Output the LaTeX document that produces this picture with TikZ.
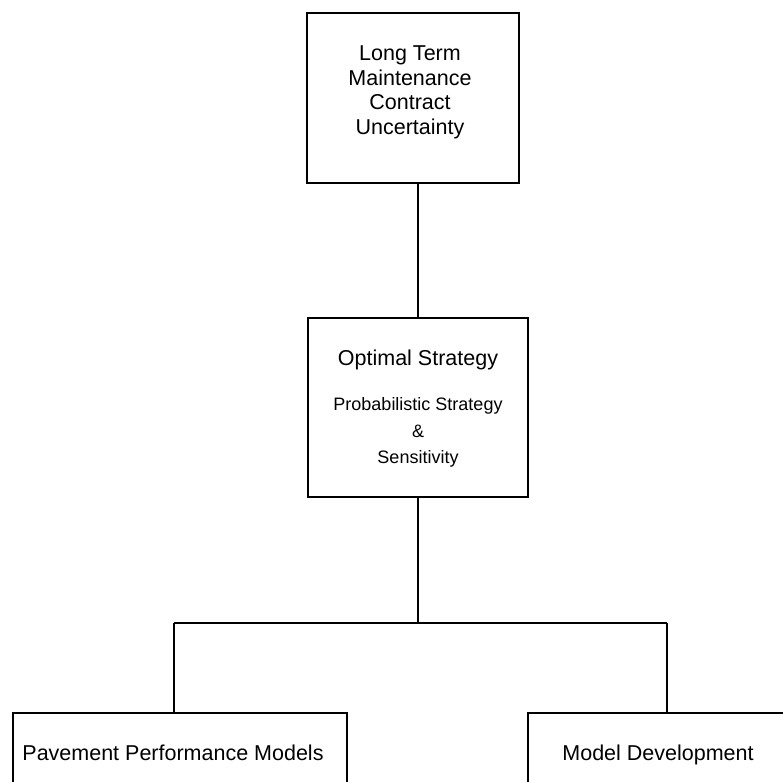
\documentclass[tikz,border=0pt]{standalone}
\usepackage{fontspec}
\setmainfont{Liberation Sans}
\begin{document}
\begin{tikzpicture}[x=1pt,y=-1pt,line width=1.8pt]
\tikzstyle{block}=[draw,rectangle,inner sep=0pt]
\tikzstyle{big}=[font=\fontsize{21.5}{24.5}\selectfont,align=center,inner sep=0pt]
\tikzstyle{small}=[font=\fontsize{18}{26.5}\selectfont,align=center,inner sep=0pt]

\useasboundingbox (0,0) rectangle (783,781);
\clip (0,0) rectangle (783,781);

% boxes
\node[block,minimum width=212pt,minimum height=170pt] (contract) at (413,98) {};
\node[block,minimum width=220pt,minimum height=179pt] (strategy) at (418,407.5) {};
\node[block,minimum width=334pt,minimum height=140pt] (pavement) at (180,783) {};
\node[block,minimum width=300pt,minimum height=140pt] (development) at (678,783) {};

% texts
\node[big,anchor=north] (contracttxt) at (410,45) {Long Term\\Maintenance\\Contract\\Uncertainty};
\node[big,anchor=north] (optimal) at (418,349) {Optimal Strategy};
\node[small,anchor=north] (prob) at (418,397) {Probabilistic Strategy\\\&\\Sensitivity};
\node[big,anchor=base] (pavetxt) at (173,760) {Pavement Performance Models};
\node[big,anchor=base] (devtxt) at (658,760) {Model Development};

% connectors
\coordinate (split) at (418,623);
\coordinate (splitL) at (174,623);
\coordinate (splitR) at (667,623);
\draw (contract.south -| strategy.north) -- (strategy.north);
\draw (strategy.south) -- (split);
\draw (splitL) -- (splitR);
\draw (splitL) -- (splitL |- pavement.north);
\draw (splitR) -- (splitR |- development.north);

\end{tikzpicture}
\end{document}
